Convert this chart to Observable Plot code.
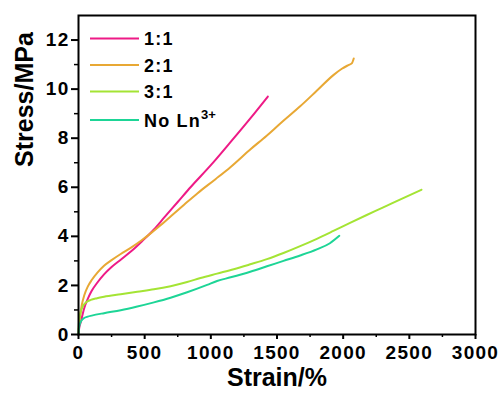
<!DOCTYPE html>
<html><head><meta charset="utf-8">
<script src="https://cdn.jsdelivr.net/npm/d3@7"></script>
<script src="https://cdn.jsdelivr.net/npm/@observablehq/plot@0.6"></script>
<style>
html,body{margin:0;padding:0;background:#fff;}
#wrap{position:relative;width:501px;height:394px;overflow:hidden;background:#fff}
#wrap svg{display:block}
#legend{position:absolute;left:0;top:0}
#wrap g[aria-label="x-axis tick label"] text, #wrap g[aria-label="y-axis tick label"] text{letter-spacing:1.3px}
</style>
</head><body><div id="wrap"></div>
<script>
const seriesNames = ["1:1", "2:1", "3:1", "No Ln"];
const seriesColors = ["#ee1a86", "#e8a834", "#a4e434", "#1dd596"];

const strain11 = [0, 5, 17, 42, 70, 100, 143, 193, 250, 319, 400, 480, 570, 650, 750, 850, 1000, 1150, 1300, 1431];
const stress11 = [0, 0.25, 0.5, 1.05, 1.45, 1.78, 2.12, 2.45, 2.75, 3.05, 3.4, 3.8, 4.28, 4.78, 5.4, 6.02, 6.9, 7.85, 8.82, 9.7];

const strain21 = [0, 4, 12, 25, 45, 70, 100, 143, 193, 250, 319, 400, 480, 545, 620, 700, 800, 900, 1035, 1150, 1300, 1422, 1525, 1675, 1800, 1926, 1990, 2040, 2065, 2080];
const stress21 = [0, 0.4, 0.75, 1.2, 1.62, 1.95, 2.22, 2.52, 2.8, 3.03, 3.28, 3.55, 3.85, 4.12, 4.45, 4.83, 5.3, 5.76, 6.33, 6.83, 7.55, 8.1, 8.6, 9.3, 9.93, 10.57, 10.83, 10.98, 11.05, 11.25];

const strain31 = [0, 3, 10, 20, 35, 60, 93, 140, 193, 319, 444, 570, 696, 821, 922, 1047, 1173, 1298, 1424, 1549, 1675, 1801, 1926, 2052, 2178, 2303, 2429, 2592];
const stress31 = [0, 0.45, 0.75, 0.98, 1.17, 1.32, 1.41, 1.48, 1.54, 1.64, 1.74, 1.84, 1.97, 2.14, 2.3, 2.48, 2.66, 2.86, 3.07, 3.32, 3.6, 3.9, 4.22, 4.55, 4.87, 5.18, 5.5, 5.9];

const strainNo = [0, 3, 10, 20, 40, 70, 100, 193, 319, 444, 570, 696, 821, 972, 1047, 1150, 1298, 1424, 1549, 1675, 1801, 1900, 1971];
const stressNo = [0, 0.25, 0.42, 0.55, 0.66, 0.73, 0.77, 0.87, 0.99, 1.14, 1.31, 1.5, 1.72, 2.02, 2.18, 2.33, 2.56, 2.78, 3.0, 3.22, 3.47, 3.72, 4.02];

const xTicks = [0, 500, 1000, 1500, 2000, 2500, 3000];
const xMinor = [250, 750, 1250, 1750, 2250, 2750];
const yTicks = [0, 2, 4, 6, 8, 10, 12];
const yMinor = [1, 3, 5, 7, 9, 11];

const xTitle = "Strain/%";
const yTitle = "Stress/MPa";

const allStrain = [strain11, strain21, strain31, strainNo];
const allStress = [stress11, stress21, stress31, stressNo];
const rows = [];
allStrain.forEach((xs, i) => xs.forEach((x, j) => rows.push({series: seriesNames[i], strain: x, stress: allStress[i][j]})));

const font = "'Liberation Sans', Arial, Helvetica, sans-serif";

const chart = Plot.plot({
  width: 501, height: 394,
  marginLeft: 78, marginRight: 26, marginTop: 15, marginBottom: 60,
  x: {domain: [0, 3000]},
  y: {domain: [0, 13]},
  color: {domain: seriesNames, range: seriesColors},
  style: {fontFamily: font, fontWeight: "bold", fontSize: "19px", color: "#000", background: "#fff", overflow: "visible"},
  marks: [
    Plot.line(rows, {x: "strain", y: "stress", z: "series", stroke: "series", strokeWidth: 2, curve: "monotone-x"}),
    Plot.axisX({ticks: xMinor, tickSize: 3, text: null, label: null, strokeWidth: 1.5}),
    Plot.axisX({ticks: xTicks, tickSize: 5, tickPadding: 6, label: null, strokeWidth: 2, tickFormat: d => String(d)}),
    Plot.axisY({ticks: yMinor, tickSize: 4, text: null, label: null, strokeWidth: 1.5}),
    Plot.axisY({ticks: yTicks, tickSize: 7, tickPadding: 2, label: null, strokeWidth: 2, tickFormat: d => String(d)}),
    Plot.frame({stroke: "#000", strokeWidth: 2}),
    Plot.text([xTitle], {frameAnchor: "bottom", dy: 51, fontSize: 25, fontWeight: "bold"}),
    Plot.text([yTitle], {frameAnchor: "left", dx: -54, dy: -8, rotate: -90, fontSize: 25, fontWeight: "bold"})
  ]
});
const wrap = document.getElementById("wrap");
wrap.appendChild(chart);

// legend overlay
const legendY = [38.5, 65, 91.5, 120];
const leg = d3.select(wrap).append("svg").attr("id", "legend").attr("width", 501).attr("height", 394);
seriesNames.forEach((name, i) => {
  const g = leg.append("g");
  g.append("line").attr("x1", 90).attr("x2", 139).attr("y1", legendY[i]).attr("y2", legendY[i])
    .attr("stroke", seriesColors[i]).attr("stroke-width", 2.2);
  const t = g.append("text").attr("x", 144).attr("y", legendY[i] + 6.5)
    .attr("font-family", font).attr("font-weight", "bold").attr("font-size", 18).attr("fill", "#000")
    .attr("letter-spacing", "1.2px")
    .text(name);
  if (name === "No Ln") {
    t.append("tspan").attr("font-size", 13).attr("dy", -8).attr("letter-spacing", "0px").text("3+");
  }
});
</script>
</body></html>
